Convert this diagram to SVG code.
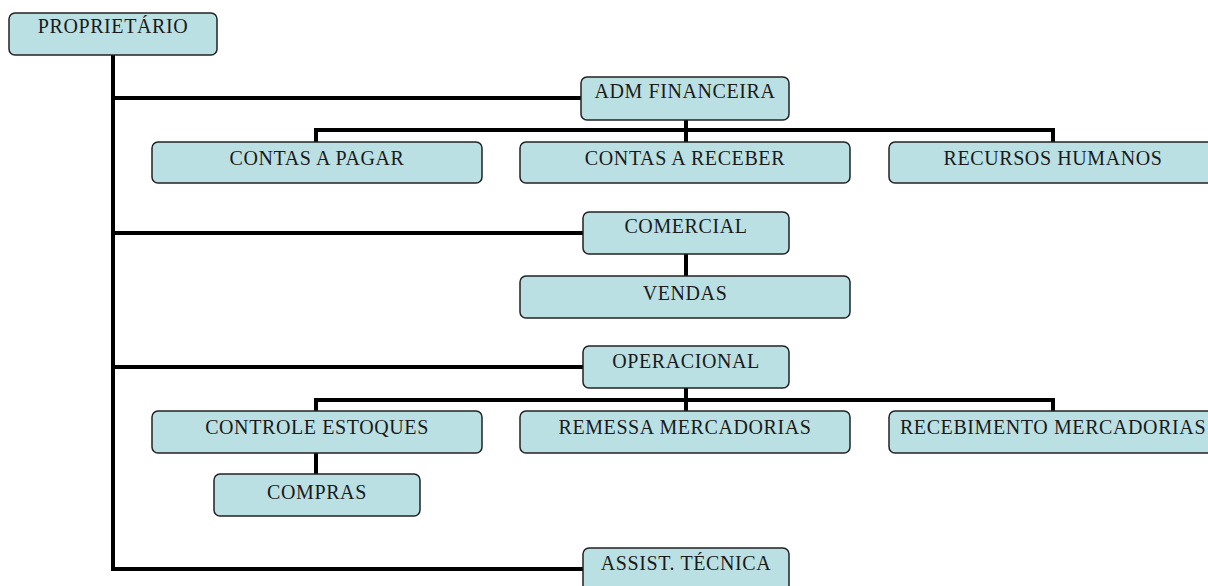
<svg xmlns="http://www.w3.org/2000/svg" width="1208" height="586" viewBox="0 0 1208 586">
<style>
.box{fill:#bae0e3;stroke:#222;stroke-width:1.5}
.t{font-family:"Liberation Serif","Times New Roman",serif;font-size:20px;fill:#1a1a1a;text-anchor:middle;letter-spacing:0.6px}
.c{stroke:#000;stroke-width:4;fill:none;stroke-linecap:square}
</style>
<rect width="1208" height="586" fill="#fff"/>
<g id="connectors">
<path class="c" d="M113 55V569H583"/>
<path class="c" d="M113 98H581"/>
<path class="c" d="M113 233H583"/>
<path class="c" d="M113 367H583"/>
<path class="c" d="M686 120V142"/>
<path class="c" d="M316 142V130H1053V142"/>
<path class="c" d="M686 254V276"/>
<path class="c" d="M686 388V411"/>
<path class="c" d="M316 411V400H1053V411"/>
<path class="c" d="M316 453V474"/>
</g>
<g id="proprietario"><rect class="box" x="9" y="13" width="208" height="42" rx="6"/><text class="t" x="113" y="33">PROPRIETÁRIO</text></g>
<g id="adm"><rect class="box" x="581" y="77" width="208" height="43" rx="6"/><text class="t" x="685" y="98">ADM FINANCEIRA</text></g>
<g id="pagar"><rect class="box" x="152" y="142" width="330" height="41" rx="6"/><text class="t" x="317" y="165">CONTAS A PAGAR</text></g>
<g id="receber"><rect class="box" x="520" y="142" width="330" height="41" rx="6"/><text class="t" x="685" y="165">CONTAS A RECEBER</text></g>
<g id="rh"><rect class="box" x="889" y="142" width="330" height="41" rx="6"/><text class="t" x="1053" y="165">RECURSOS HUMANOS</text></g>
<g id="comercial"><rect class="box" x="583" y="212" width="206" height="42" rx="6"/><text class="t" x="686" y="233">COMERCIAL</text></g>
<g id="vendas"><rect class="box" x="520" y="276" width="330" height="42" rx="6"/><text class="t" x="685" y="300">VENDAS</text></g>
<g id="operacional"><rect class="box" x="583" y="346" width="206" height="42" rx="6"/><text class="t" x="686" y="368">OPERACIONAL</text></g>
<g id="estoques"><rect class="box" x="152" y="411" width="330" height="42" rx="6"/><text class="t" x="317" y="434">CONTROLE ESTOQUES</text></g>
<g id="remessa"><rect class="box" x="520" y="411" width="330" height="42" rx="6"/><text class="t" x="685" y="434">REMESSA MERCADORIAS</text></g>
<g id="recebimento"><rect class="box" x="889" y="411" width="330" height="42" rx="6"/><text class="t" x="1053" y="434">RECEBIMENTO MERCADORIAS</text></g>
<g id="compras"><rect class="box" x="214" y="474" width="206" height="42" rx="6"/><text class="t" x="317" y="499">COMPRAS</text></g>
<g id="assist"><rect class="box" x="583" y="548" width="206" height="44" rx="6"/><text class="t" x="686" y="570">ASSIST. TÉCNICA</text></g>
</svg>
